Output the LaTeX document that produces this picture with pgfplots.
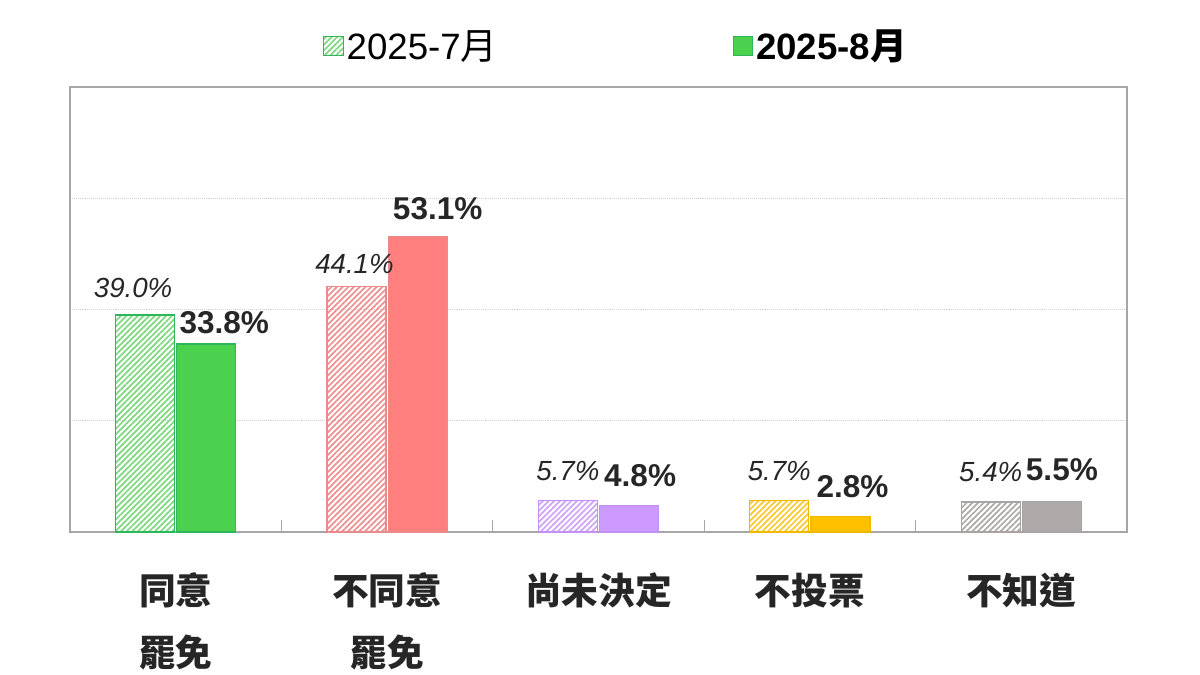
\documentclass[border=0pt]{standalone}
\usepackage{fontspec}
\setmainfont{Liberation Sans}
\newfontfamily\cjk{Noto Sans CJK TC}
\usepackage{pgfplots}
\usepackage{pgfplotstable}
\pgfplotsset{compat=1.18}
\usetikzlibrary{patterns.meta}

\definecolor{grnS}{HTML}{4CD14F}
\definecolor{grnB}{HTML}{2DB65A}
\definecolor{grnH}{HTML}{7ED87E}
\definecolor{redS}{HTML}{FF7F7F}
\definecolor{redB}{HTML}{EB8A8A}
\definecolor{redH}{HTML}{EE9090}
\definecolor{purS}{HTML}{CC99FF}
\definecolor{purB}{HTML}{C390F5}
\definecolor{purH}{HTML}{CFA3FA}
\definecolor{yelS}{HTML}{FFC000}
\definecolor{yelB}{HTML}{F2B800}
\definecolor{yelH}{HTML}{F9C833}
\definecolor{gryS}{HTML}{AEA9A9}
\definecolor{gryB}{HTML}{A8A4A4}
\definecolor{gryH}{HTML}{ADA9A9}
\definecolor{frame}{HTML}{A6A6A6}
\definecolor{labelc}{HTML}{262626}

% 2025-7月 and 2025-8月, categories at 0..4; dx, dy = label offsets in px
\pgfplotstableread{
x y dx dy
0 39.0 -12 17
1 44.1 -2 12
2 5.7 0 19
3 5.7 0 19
4 5.4 0 20
}\jul
\pgfplotstableread{
x y dx dy
0 33.8 18 10
1 53.1 20 16
2 4.8 11 18
3 2.8 12 18
4 5.5 10 20
}\aug

\pgfplotsset{
  lbl/.style 2 args={
    visualization depends on={\thisrow{dx} \as \dx},
    visualization depends on={\thisrow{dy} \as \dy},
    nodes near coords={\pgfmathprintnumber[fixed,fixed zerofill,precision=1,assume math mode=true]{\pgfplotspointmeta}\%},
    every node near coord/.append style={font=#1, text=labelc, anchor=south,
      inner sep=0pt, xshift={(\dx+#2)*0.7227pt}, yshift={\dy*0.7227pt}},
  },
  only/.style={x filter/.expression={abs(x-#1)<0.1 ? x : nan}},
}
% one hatched bar (July) and one solid bar (August)
\newcommand{\julbar}[4][forget plot]{\addplot[ybar, bar width=0.279, bar shift=-0.145,
  draw=#3, line width=0.9pt, pattern={Lines[angle=45,distance=2.9pt,line width=1.25pt]},
  pattern color=#4, only=#2, lbl={\itshape\fontsize{20}{20}\selectfont}{-30.6}, #1]
  table[x=x,y=y] {\jul};}
\newcommand{\augbar}[4][forget plot]{\addplot[ybar, bar width=0.279, bar shift=0.145,
  draw=#3, line width=0.9pt, fill=#4, only=#2, lbl={\bfseries\fontsize{22.8}{22.8}\selectfont}{30.6}, #1]
  table[x=x,y=y] {\aug};}

\begin{document}
\begin{tikzpicture}
\path[use as bounding box] (-0.70in,-1.43in) rectangle (11.30in,5.32in);
\begin{axis}[
  scale only axis, width=10.57in, height=4.45in,
  xmin=-0.5, xmax=4.5, ymin=0, ymax=80,
  clip=false,
  axis line style={frame, line width=0.8pt},
  xtick={0,1,2,3,4},
  xticklabels={{同意\\罷免},{不同意\\罷免},尚未決定,不投票,不知道},
  major x tick style={draw=none},
  minor xtick={0.5,1.5,2.5,3.5},
  minor x tick style={frame, line width=0.8pt},
  minor tick length=8.7pt,
  xtick pos=bottom, tick align=inside,
  xticklabel style={font=\cjk\bfseries\fontsize{26.5}{45}\selectfont, align=center,
    text=labelc, yshift=-26pt},
  ytick={20,40,60}, yticklabels={}, major y tick style={draw=none},
  ymajorgrids, major grid style={densely dotted, gray!35, line width=0.6pt},
  legend columns=2,
  legend style={at={(0.517,1)}, anchor=south, yshift=14pt, draw=none, fill=none,
    font=\fontsize{26.5}{26.5}\selectfont, text=black,
    /tikz/every even column/.append style={column sep=168pt}},
  legend image code/.code={\draw[#1] (0pt,-7pt) rectangle (14pt,7pt);},
]
\julbar[]{0}{grnB}{grnH}
\addlegendentry{2025-7{\cjk 月}}
\augbar[]{0}{grnB}{grnS}
\addlegendentry{\textbf{2025-8{\cjk\bfseries 月}}}
\julbar{1}{redB}{redH}
\augbar{1}{redB}{redS}
\julbar{2}{purB}{purH}
\augbar{2}{purB}{purS}
\julbar{3}{yelB}{yelH}
\augbar{3}{yelB}{yelS}
\julbar{4}{gryB}{gryH}
\augbar{4}{gryB}{gryS}
\end{axis}
\end{tikzpicture}
\end{document}
